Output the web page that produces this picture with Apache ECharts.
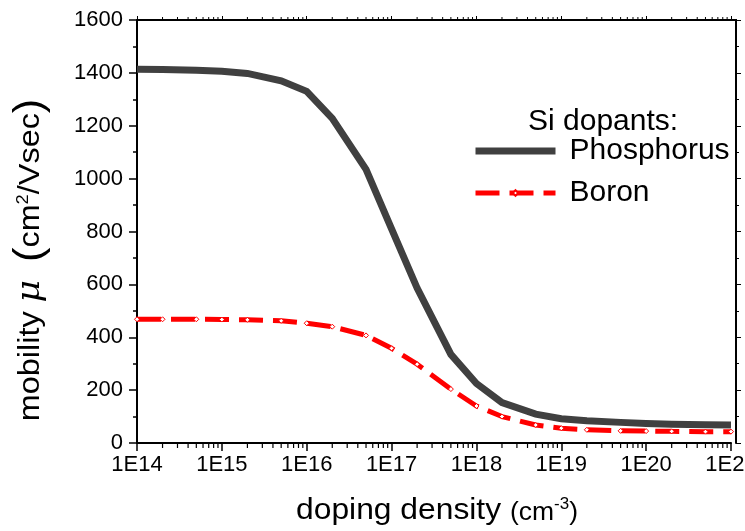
<!DOCTYPE html>
<html>
<head>
<meta charset="utf-8">
<script src="https://cdn.jsdelivr.net/npm/echarts@6/dist/echarts.min.js"></script>
<style>html,body{margin:0;padding:0;background:#fff}#c{width:745px;height:531px}</style>
</head>
<body>
<div id="c"></div>
<script>
// doping density (cm^-3)
const densities = [1e14, 2e14, 5e14, 1e15, 2e15, 5e15, 1e16, 2e16, 5e16, 1e17, 2e17, 5e17,
                   1e18, 2e18, 5e18, 1e19, 2e19, 5e19, 1e20, 2e20, 5e20, 1e21];
// mobility (cm^2/Vsec)
const phosphorus = [1414, 1413, 1410, 1406, 1398, 1370, 1330, 1228, 1035, 810, 586, 335,
                    225, 153, 109, 92, 84, 78, 74, 71, 69, 68];
const boron = [468, 468, 468, 467, 466, 462, 453, 440, 407, 358, 298, 204,
               140, 100, 68, 56, 50, 46, 45, 44, 43, 43];
const seriesNames = ['Phosphorus', 'Boron'];
const legendTitle = 'Si dopants:';
const yTickValues = [0, 200, 400, 600, 800, 1000, 1200, 1400, 1600];
const xTickLabelPrefix = '1E';

// minor tick positions for the log axis (2..9 in each decade)
const minorTicks = [];
for (let d = 14; d < 21; d++) for (let k = 2; k <= 9; k++) minorTicks.push(k * Math.pow(10, d));

const FONT = '"Liberation Sans", Arial, sans-serif';
const chart = echarts.init(document.getElementById('c'), null, {renderer: 'canvas'});

const xMin = densities[0], xMax = densities[densities.length - 1];
const yMin = yTickValues[0], yMax = yTickValues[yTickValues.length - 1];

chart.setOption({
  animation: false,
  backgroundColor: '#fff',
  grid: {left: 137, right: 14, top: 20, bottom: 88, containLabel: false, outerBoundsMode: 'none'},
  title: {
    text: legendTitle, left: 528, top: 107, padding: 0,
    textStyle: {fontFamily: FONT, fontSize: 30, fontWeight: 'normal', color: '#000'}
  },
  legend: {
    data: [
      {name: seriesNames[0], itemStyle: {opacity: 0}},
      {name: seriesNames[1]}
    ],
    orient: 'vertical', left: 472, top: 136, padding: 0,
    itemWidth: 80, itemHeight: 7, itemGap: 12,
    lineStyle: {width: 'inherit'},
    textStyle: {fontFamily: FONT, fontSize: 30, color: '#000', lineHeight: 30, padding: [0, 0, 0, 9]}
  },
  xAxis: [{
    type: 'log', logBase: 10, min: xMin, max: xMax, position: 'bottom',
    axisLine: {show: true, onZero: false, lineStyle: {color: '#000', width: 2}},
    axisTick: {show: true, inside: false, length: 8, lineStyle: {color: '#000', width: 1.5}},
    minorTick: {show: false},
    axisLabel: {
      show: true, margin: 11, color: '#000', fontFamily: FONT, fontSize: 22, hideOverlap: false,
      formatter: v => xTickLabelPrefix + Math.round(Math.log10(v))
    },
    splitLine: {show: false}
  }, {
    type: 'log', logBase: 10, min: xMin, max: xMax, position: 'top',
    axisLine: {show: true, onZero: false, lineStyle: {color: '#000', width: 2}},
    axisTick: {show: true, inside: false, length: 4, lineStyle: {color: '#000', width: 1}},
    axisLabel: {show: false}, splitLine: {show: false}
  }],
  yAxis: [{
    type: 'value', min: yMin, max: yMax, interval: 200, position: 'left',
    axisLine: {show: true, onZero: false, lineStyle: {color: '#000', width: 2}},
    axisTick: {show: true, inside: false, length: 8, lineStyle: {color: '#000', width: 1.5}},
    minorTick: {show: true, splitNumber: 2, length: 4, lineStyle: {color: '#000', width: 1.5}},
    axisLabel: {show: true, margin: 14, color: '#000', fontFamily: FONT, fontSize: 22,
      formatter: v => String(v)},
    splitLine: {show: false}
  }, {
    type: 'value', min: yMin, max: yMax, interval: 200, position: 'right', offset: 5,
    axisLine: {show: true, onZero: false, lineStyle: {color: '#000', width: 2}},
    axisTick: {show: true, inside: false, length: 5, lineStyle: {color: '#000', width: 1}},
    minorTick: {show: true, splitNumber: 2, length: 3, lineStyle: {color: '#000', width: 1}},
    axisLabel: {show: false}, splitLine: {show: false}
  }],
  graphic: [
    {type: 'line', shape: {x1: 730, y1: 20, x2: 737, y2: 20}, style: {stroke: '#000', lineWidth: 2}, z: 100},
    {
      type: 'text', x: 31, y: 260, rotation: Math.PI / 2, scaleX: 1.08,
      style: {
        text: '{a|mobility }{m|μ}{a|  }{p|(}{a|cm}{s|2}{a|/Vsec}{p|)}',
        align: 'center', verticalAlign: 'middle', fill: '#000',
        rich: {
          a: {fontFamily: FONT, fontSize: 30, fill: '#000'},
          m: {fontFamily: '"DejaVu Serif", serif', fontStyle: 'italic', fontSize: 32, fill: '#000'},
          p: {fontFamily: FONT, fontSize: 40, fill: '#000'},
          s: {fontFamily: FONT, fontSize: 17, fill: '#000', padding: [0, 0, 16, 0]}
        }
      }
    },
    {
      type: 'text', x: 437, y: 511, scaleX: 1.06,
      style: {
        text: '{a|doping density }{b|(cm}{s|-3}{b|)}',
        align: 'center', verticalAlign: 'middle', fill: '#000',
        rich: {
          a: {fontFamily: FONT, fontSize: 30, fill: '#000'},
          b: {fontFamily: FONT, fontSize: 25, fill: '#000', padding: [4, 0, 0, 0]},
          s: {fontFamily: FONT, fontSize: 16, fill: '#000', padding: [0, 0, 12, 0]}
        }
      }
    }
  ],
  series: [
    {
      name: seriesNames[0], type: 'line', xAxisIndex: 0, yAxisIndex: 0,
      data: densities.map((d, i) => [d, phosphorus[i]]),
      showSymbol: false, symbol: 'none', smooth: false,
      lineStyle: {color: '#404040', width: 7, cap: 'butt', join: 'miter'},
      itemStyle: {color: '#404040'}, z: 3
    },
    {
      name: seriesNames[1], type: 'line', xAxisIndex: 0, yAxisIndex: 0,
      data: densities.map((d, i) => [d, boron[i]]),
      symbol: 'diamond', symbolSize: 5, showSymbol: true, smooth: false,
      lineStyle: {color: '#ff0000', width: 5, type: [24, 10], cap: 'butt'},
      itemStyle: {color: '#ffffff', borderColor: '#ff0000', borderWidth: 1}, z: 4
    },
    {
      type: 'custom', name: 'minorTicks', xAxisIndex: 0, yAxisIndex: 0, silent: true, clip: false,
      data: minorTicks.map(v => [v, yMin]),
      renderItem: (params, api) => {
        const v = api.value(0);
        const b = api.coord([v, yMin]);
        const t = api.coord([v, yMax]);
        return {type: 'group', children: [
          {type: 'line', shape: {x1: b[0], y1: b[1], x2: b[0], y2: b[1] + 5}, style: {stroke: '#000', lineWidth: 1.2}},
          {type: 'line', shape: {x1: t[0], y1: t[1], x2: t[0], y2: t[1] - 3}, style: {stroke: '#000', lineWidth: 1}}
        ]};
      }
    }
  ]
});
</script>
</body>
</html>
